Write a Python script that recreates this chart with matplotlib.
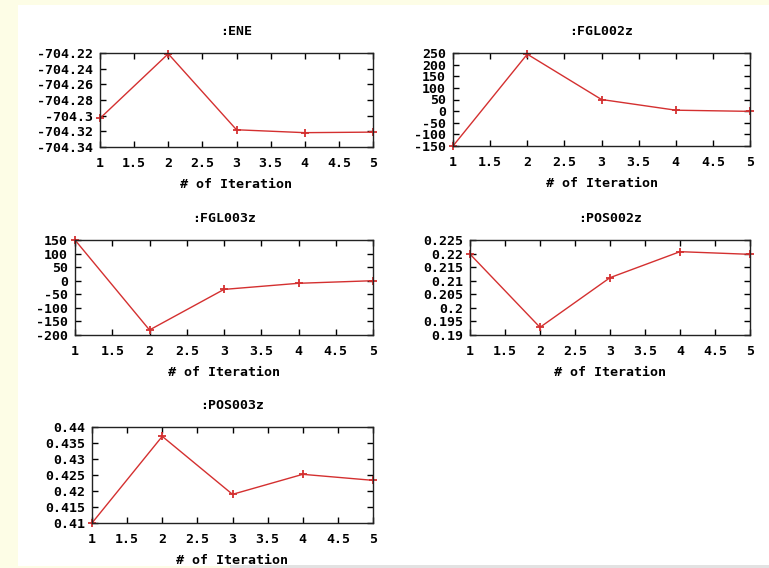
import matplotlib
matplotlib.use("Agg")
import matplotlib.pyplot as plt
from matplotlib.patches import Rectangle
from matplotlib.ticker import MultipleLocator, FuncFormatter


# ==========================================================
# Convergence data (one series per monitored quantity)
# ==========================================================

iteration = [1, 2, 3, 4, 5]

ene = [-704.3034, -704.221, -704.318, -704.3217, -704.321]
fgl002z = [-150.0, 245.0, 50.0, 4.0, -1.0]
fgl003z = [150.0, -181.5, -32.0, -9.5, 0.0]
pos002z = [0.2198, 0.19283, 0.21112, 0.2207, 0.21972]
pos003z = [0.41, 0.43708, 0.41896, 0.42521, 0.42333]

titles = [":ENE", ":FGL002z", ":FGL003z", ":POS002z", ":POS003z"]
series = [ene, fgl002z, fgl003z, pos002z, pos003z]
y_limits = [
    (-704.34, -704.22),
    (-150, 250),
    (-200, 150),
    (0.19, 0.225),
    (0.41, 0.44),
]
y_steps = [0.02, 50, 50, 0.005, 0.005]


# ==========================================================
# Layout (pixel boxes: left, top, right, bottom)
# ==========================================================

W, H = 769, 568
DPI = 100

boxes = [
    (100, 53, 373, 147),
    (453, 53, 750, 146),
    (75, 240, 373, 335),
    (470, 240, 750, 335),
    (92, 427, 373, 523),
]

plt.rcParams["font.family"] = "DejaVu Sans Mono"
plt.rcParams["font.weight"] = "bold"
plt.rcParams["axes.unicode_minus"] = False

RED = "#d43030"
FS = 9.5


def gfmt(v, pos):
    return f"{round(v, 4) + 0.0:g}"


fig = plt.figure(figsize=(W / DPI, H / DPI), dpi=DPI)
fig.patch.set_facecolor("#fdfde6")

# white page area plus the thin grey strip at the bottom
fig.add_artist(Rectangle((18 / W, 2 / H), 1 - 18 / W, 1 - 7 / H,
                         transform=fig.transFigure, facecolor="white",
                         edgecolor="none", zorder=0))
fig.add_artist(Rectangle((230 / W, 0), 1 - 230 / W, 3 / H,
                         transform=fig.transFigure, facecolor="#e2e2e2",
                         edgecolor="none", zorder=0))

for box, title, ys, ylim, step in zip(boxes, titles, series, y_limits, y_steps):
    l, t, r, b = box
    ax = fig.add_axes([l / W, 1 - b / H, (r - l) / W, (b - t) / H])
    ax.set_facecolor("white")

    ax.plot(
        iteration,
        ys,
        color=RED,
        linewidth=1.0,
        marker="+",
        markersize=6,
        markeredgewidth=1.3,
        clip_on=False,
    )

    ax.set_xlim(1, 5)
    ax.set_ylim(*ylim)
    ax.xaxis.set_major_locator(MultipleLocator(0.5))
    ax.yaxis.set_major_locator(MultipleLocator(step))
    ax.xaxis.set_major_formatter(FuncFormatter(gfmt))
    ax.yaxis.set_major_formatter(FuncFormatter(gfmt))

    ax.tick_params(
        direction="in",
        length=4,
        width=1,
        top=True,
        right=True,
        labelsize=FS,
    )
    ax.tick_params(axis="x", pad=7)
    ax.tick_params(axis="y", pad=5)

    for spine in ax.spines.values():
        spine.set_linewidth(1.0)
        spine.set_color("#222222")

    ax.set_title(title, fontsize=FS, fontweight="bold", pad=13)
    ax.set_xlabel("# of Iteration", fontsize=FS, fontweight="bold",
                  labelpad=6)

fig.savefig("out.png", dpi=DPI, facecolor=fig.get_facecolor())
plt.close(fig)
